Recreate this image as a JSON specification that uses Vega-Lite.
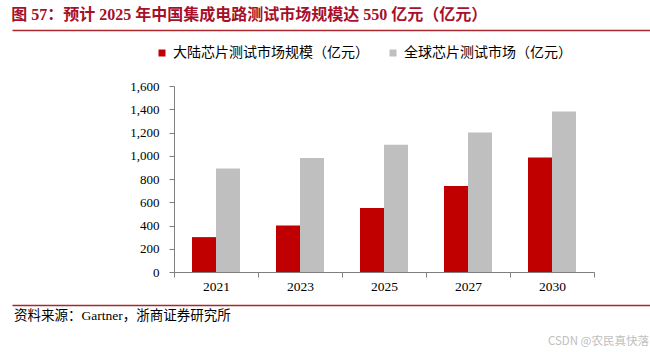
{
  "$schema": "https://vega.github.io/schema/vega-lite/v6.json",
  "padding": {"left": 9, "top": 7, "right": 0, "bottom": 0},
  "bounds": "flush",
  "spacing": 33,
  "resolve": {"scale": {"color": "independent"}, "legend": {"color": "independent"}},
  "title": {
    "text": "图 57：预计 2025 年中国集成电路测试市场规模达 550 亿元（亿元）",
    "anchor": "start",
    "frame": "bounds",
    "offset": 7,
    "dx": 2,
    "font": "Liberation Serif, Noto Sans CJK SC",
    "fontSize": 16,
    "fontWeight": "bold",
    "color": "#a8102a"
  },
  "config": {"view": {"stroke": null}},
  "vconcat": [
    {
      "width": 420,
      "height": 23,
      "data": {"values": [{"v": 0}]},
      "mark": {"type": "point", "opacity": 0},
      "encoding": {
        "x": {
          "field": "v",
          "type": "quantitative",
          "scale": {"domain": [0, 1], "range": [-162, 479]},
          "axis": {"orient": "top", "domainColor": "#a8282e", "domainWidth": 1.5, "labels": false, "ticks": false, "grid": false, "title": null}
        }
      }
    },
    {
      "width": 420,
      "height": 186,
      "data": {
        "values": [
          {"year": "2021", "series": "大陆芯片测试市场规模（亿元）", "value": 300},
          {"year": "2021", "series": "全球芯片测试市场（亿元）", "value": 890},
          {"year": "2023", "series": "大陆芯片测试市场规模（亿元）", "value": 400},
          {"year": "2023", "series": "全球芯片测试市场（亿元）", "value": 980},
          {"year": "2025", "series": "大陆芯片测试市场规模（亿元）", "value": 550},
          {"year": "2025", "series": "全球芯片测试市场（亿元）", "value": 1095},
          {"year": "2027", "series": "大陆芯片测试市场规模（亿元）", "value": 740},
          {"year": "2027", "series": "全球芯片测试市场（亿元）", "value": 1200},
          {"year": "2030", "series": "大陆芯片测试市场规模（亿元）", "value": 985},
          {"year": "2030", "series": "全球芯片测试市场（亿元）", "value": 1380}
        ]
      },
      "mark": {"type": "bar"},
      "encoding": {
        "x": {
          "field": "year",
          "type": "ordinal",
          "scale": {"paddingInner": 0, "paddingOuter": 0},
          "axis": {
            "title": null,
            "labelAngle": 0,
            "tickBand": "extent",
            "tickSize": 5,
            "tickColor": "#7f7f7f",
            "domainColor": "#7f7f7f",
            "labelFont": "Liberation Serif",
            "labelFontSize": 13.5,
            "labelColor": "#000000",
            "labelPadding": 2
          }
        },
        "xOffset": {
          "field": "series",
          "type": "nominal",
          "sort": ["大陆芯片测试市场规模（亿元）", "全球芯片测试市场（亿元）"],
          "scale": {"paddingOuter": 0.75, "paddingInner": 0}
        },
        "y": {
          "field": "value",
          "type": "quantitative",
          "scale": {"domain": [0, 1600], "nice": false},
          "axis": {
            "title": null,
            "values": [0, 200, 400, 600, 800, 1000, 1200, 1400, 1600],
            "format": ",.0f",
            "grid": false,
            "tickSize": 5,
            "tickColor": "#7f7f7f",
            "domainColor": "#7f7f7f",
            "labelFont": "Liberation Serif",
            "labelFontSize": 13,
            "labelColor": "#000000",
            "labelPadding": 10
          }
        },
        "color": {
          "field": "series",
          "type": "nominal",
          "scale": {
            "domain": ["大陆芯片测试市场规模（亿元）", "全球芯片测试市场（亿元）"],
            "range": ["#c00000", "#bfbfbf"]
          },
          "legend": {
            "title": null,
            "orient": "none",
            "legendX": -19,
            "legendY": -40,
            "direction": "horizontal",
            "symbolType": "square",
            "symbolSize": 49,
            "symbolStrokeWidth": 0,
            "labelFont": "Noto Sans CJK SC",
            "labelFontSize": 14,
            "labelColor": "#000000",
            "labelLimit": 300,
            "columnPadding": 17,
            "labelOffset": 4,
            "padding": 0
          }
        }
      }
    },
    {
      "width": 420,
      "height": 22,
      "data": {"values": [{"label": "资料来源：Gartner，浙商证券研究所", "kind": "source"}, {"label": "CSDN @农民真快落", "kind": "mark"}]},
      "encoding": {
        "text": {"field": "label"}
      },
      "layer": [
        {
          "transform": [{"filter": "datum.kind === 'source'"}],
          "mark": {"type": "text", "align": "left", "baseline": "middle", "dx": 2, "font": "Liberation Serif, Noto Sans CJK SC", "fontSize": 13.5, "color": "#000000"},
          "encoding": {
            "x": {
              "datum": 0,
              "type": "quantitative",
              "scale": {"domain": [0, 1], "range": [-162, 479]},
              "axis": {"orient": "top", "domainColor": "#a8282e", "domainWidth": 1.5, "labels": false, "ticks": false, "grid": false, "title": null}
            }
          }
        },
        {
          "transform": [{"filter": "datum.kind === 'mark'"}],
          "mark": {"type": "text", "align": "right", "baseline": "middle", "dx": -4, "dy": 26, "font": "Noto Sans CJK SC", "fontSize": 11.5, "color": "#c0c0c0"},
          "encoding": {
            "x": {"datum": 1, "type": "quantitative"}
          }
        }
      ]
    }
  ]
}
